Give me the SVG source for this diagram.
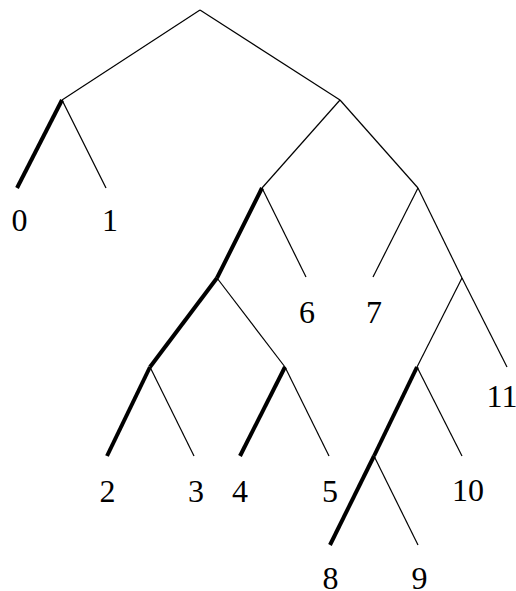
<svg xmlns="http://www.w3.org/2000/svg" width="516" height="591" viewBox="0 0 516 591">
<style>
.e{stroke:#000;stroke-width:1.2;fill:none}
.t{stroke:#000;stroke-width:4;fill:none}
text{font-family:"Liberation Serif","Times New Roman",serif;font-size:32px;fill:#000;text-anchor:middle}
</style>
<rect width="516" height="591" fill="#fff"/>
<g id="connectors">
<line class="e" x1="200" y1="10" x2="62" y2="100"/>
<line class="e" x1="200" y1="10" x2="340" y2="100"/>
<line class="t" x1="62" y1="100" x2="17" y2="188"/>
<line class="e" x1="62" y1="100" x2="106" y2="188"/>
<line class="e" x1="340" y1="100" x2="262" y2="188"/>
<line class="e" x1="340" y1="100" x2="418" y2="188"/>
<line class="t" x1="262" y1="188" x2="217" y2="278"/>
<line class="e" x1="262" y1="188" x2="306" y2="277"/>
<line class="e" x1="418" y1="188" x2="373" y2="277"/>
<line class="e" x1="418" y1="188" x2="462" y2="278"/>
<line class="t" x1="217" y1="278" x2="150" y2="367"/>
<line class="e" x1="217" y1="278" x2="285" y2="367"/>
<line class="e" x1="462" y1="278" x2="417" y2="367"/>
<line class="e" x1="462" y1="278" x2="507" y2="367"/>
<line class="t" x1="150" y1="367" x2="107" y2="456"/>
<line class="e" x1="150" y1="367" x2="194" y2="456"/>
<line class="t" x1="285" y1="367" x2="240" y2="456"/>
<line class="e" x1="285" y1="367" x2="329" y2="456"/>
<line class="t" x1="417" y1="367" x2="374" y2="456"/>
<line class="e" x1="417" y1="367" x2="462" y2="456"/>
<line class="t" x1="374" y1="456" x2="330" y2="545"/>
<line class="e" x1="374" y1="456" x2="418" y2="545"/>
</g>
<g id="n0"><text x="19.5" y="231">0</text></g>
<g id="n1"><text x="110" y="231">1</text></g>
<g id="n2"><text x="107.5" y="502">2</text></g>
<g id="n3"><text x="196" y="502">3</text></g>
<g id="n4"><text x="240" y="502">4</text></g>
<g id="n5"><text x="330" y="502">5</text></g>
<g id="n6"><text x="307" y="323">6</text></g>
<g id="n7"><text x="374" y="323">7</text></g>
<g id="n8"><text x="330.5" y="589">8</text></g>
<g id="n9"><text x="419.5" y="589">9</text></g>
<g id="n10"><text x="468" y="501">10</text></g>
<g id="n11"><text x="502" y="407">11</text></g>
</svg>
